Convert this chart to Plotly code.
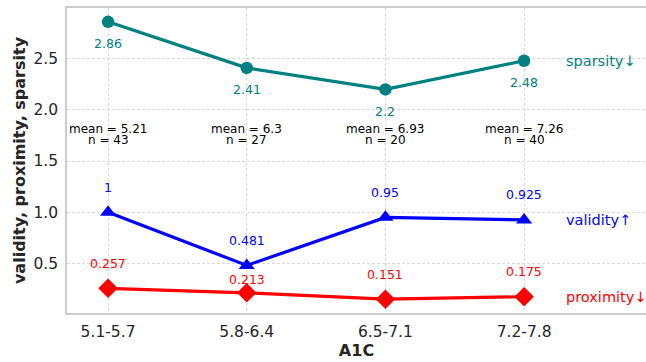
import plotly.graph_objects as go

groups = ["5.1-5.7", "5.8-6.4", "6.5-7.1", "7.2-7.8"]
sparsity = [2.86, 2.41, 2.2, 2.48]
validity = [1, 0.481, 0.95, 0.925]
proximity = [0.257, 0.213, 0.151, 0.175]
group_means = [5.21, 6.3, 6.93, 7.26]
group_sizes = [43, 27, 20, 40]

TEAL = "#008080"
BLUE = "#0000ff"
RED = "#ff0000"
FONT = "DejaVu Sans"
TEXT = "#262626"

xs = list(range(len(groups)))

fig = go.Figure()
fig.add_trace(go.Scatter(x=xs, y=sparsity, mode="lines+markers",
                         line=dict(color=TEAL, width=3.2),
                         marker=dict(symbol="circle", size=12.5, color=TEAL)))
fig.add_trace(go.Scatter(x=xs, y=validity, mode="lines+markers",
                         line=dict(color=BLUE, width=3.2),
                         marker=dict(symbol="triangle-up", size=14, color=BLUE)))
fig.add_trace(go.Scatter(x=xs, y=proximity, mode="lines+markers",
                         line=dict(color=RED, width=3.2),
                         marker=dict(symbol="diamond", size=15, color=RED)))

ann = []
# value labels
for i, v in enumerate(sparsity):
    ann.append(dict(x=i, y=v, text=f"{v:g}", showarrow=False, yshift=-22,
                    font=dict(color=TEAL, size=12.5, family=FONT)))
for i, v in enumerate(validity):
    ann.append(dict(x=i, y=v, text=f"{v:g}", showarrow=False, yshift=25,
                    font=dict(color=BLUE, size=12.5, family=FONT)))
prox_shift = [25, 13, 25, 25]
for i, v in enumerate(proximity):
    ann.append(dict(x=i, y=v, text=f"{v:g}", showarrow=False, yshift=prox_shift[i],
                    font=dict(color=RED, size=12.5, family=FONT)))
# group summaries
for i, (m, n) in enumerate(zip(group_means, group_sizes)):
    ann.append(dict(x=i, y=1.8, text=f"mean = {m:g}", showarrow=False, yshift=1,
                    font=dict(color="black", size=12, family=FONT)))
    ann.append(dict(x=i, y=1.8, text=f"n = {n}", showarrow=False, yshift=-10,
                    font=dict(color="black", size=12, family=FONT)))
# series names
for name, v, c in [("sparsity↓", sparsity[-1], TEAL),
                   ("validity↑", validity[-1], BLUE),
                   ("proximity↓", proximity[-1], RED)]:
    ann.append(dict(x=3.285, y=v, text=name, showarrow=False, xanchor="left",
                    font=dict(color=c, size=14.5, family=FONT)))

grid = dict(showgrid=True, gridcolor="#d9d9d9", griddash="3px,2px", gridwidth=1)

fig.update_layout(
    width=646, height=362,
    margin=dict(l=67, r=0, t=8, b=49),
    paper_bgcolor="white", plot_bgcolor="white",
    showlegend=False,
    font=dict(family=FONT, color=TEXT),
    annotations=ann,
    xaxis=dict(
        tickmode="array", tickvals=xs, ticktext=groups,
        range=[-0.296, 3.879],
        **grid,
        showline=True, linecolor="#cccccc", linewidth=1.5, mirror=True,
        zeroline=False, ticks="outside", ticklen=4, tickcolor="rgba(0,0,0,0)",
        tickfont=dict(size=15.5, color=TEXT),
        title=dict(text="<b>A1C</b>", font=dict(size=16, color=TEXT), standoff=2),
    ),
    yaxis=dict(
        range=[0.016, 2.995],
        tickvals=[0.5, 1.0, 1.5, 2.0, 2.5],
        ticktext=["0.5", "1.0", "1.5", "2.0", "2.5"],
        **grid,
        showline=True, linecolor="#cccccc", linewidth=1.5, mirror=False,
        zeroline=False, ticks="outside", ticklen=4, tickcolor="rgba(0,0,0,0)",
        tickfont=dict(size=15.5, color=TEXT),
        title=dict(text="<b>validity, proximity, sparsity</b>",
                   font=dict(size=16, color=TEXT), standoff=4),
    ),
)

fig.write_html("out.html")
